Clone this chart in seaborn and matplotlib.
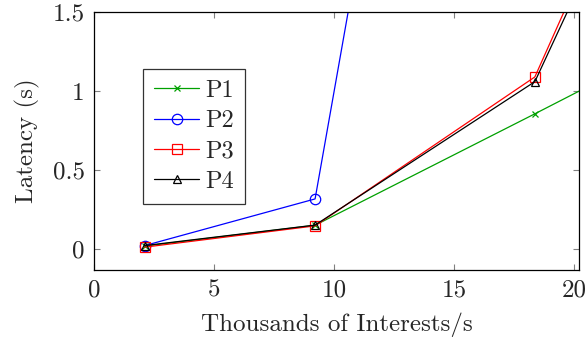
import numpy as np
import pandas as pd
import seaborn as sns
import matplotlib.pyplot as plt
from matplotlib.ticker import FuncFormatter

# interests per second (thousands) vs latency (s); last point of each series is off-chart
x_p1 = [2.1, 9.2, 18.36, 27.5]
y_p1 = [0.017, 0.149, 0.856, 1.57]

x_p2 = [2.1, 9.2, 18.36]
y_p2 = [0.02, 0.316, 8.2]

x_p3 = [2.1, 9.2, 18.36, 27.5]
y_p3 = [0.01, 0.145, 1.09, 4.2]

x_p4 = [2.1, 9.2, 18.36, 27.5]
y_p4 = [0.02, 0.15, 1.06, 4.05]

labels = ["P1", "P2", "P3", "P4"]

sns.set_style("ticks")
plt.rcParams["font.family"] = ["cmr10", "DejaVu Serif"]
plt.rcParams["axes.unicode_minus"] = False
plt.rcParams["mathtext.fontset"] = "cm"

fig = plt.figure(figsize=(5.87, 3.39), dpi=100)
ax = fig.add_axes([0.1607, 0.2035, 0.8257, 0.7602])

series = [
    (x_p1, y_p1, "#00a000", "x", 5, "none"),
    (x_p2, y_p2, "#0000ff", "o", 7.5, "none"),
    (x_p3, y_p3, "#ff0000", "s", 7.5, "none"),
    (x_p4, y_p4, "#000000", "^", 5.5, "none"),
]
for (xs, ys, col, mk, ms, fc), lab in zip(series, labels):
    sns.lineplot(x=xs, y=ys, ax=ax, color=col, marker=mk, markersize=ms,
                 markerfacecolor=fc, markeredgecolor=col, markeredgewidth=0.9,
                 linewidth=0.9, label=lab)

ax.set_xlim(0, 20.2)
ax.set_ylim(-0.135, 1.5)
ax.set_xticks([0, 5, 10, 15, 20])
ax.set_yticks([0, 0.5, 1, 1.5])
fmt = FuncFormatter(lambda v, p: "%g" % v)
ax.xaxis.set_major_formatter(fmt)
ax.yaxis.set_major_formatter(fmt)
ax.tick_params(direction="in", length=4, width=0.8, color="#808080",
               top=True, right=True, labelsize=18, pad=7)
for s in ax.spines.values():
    s.set_visible(True)
    s.set_linewidth(0.9)
    s.set_color("black")

ax.set_xlabel("Thousands of Interests/s", fontsize=18, labelpad=8)
ax.set_ylabel("Latency (s)", fontsize=18, labelpad=9)

leg = ax.legend(loc="upper left", bbox_to_anchor=(0.101, 0.781), fontsize=17.5,
                frameon=True, fancybox=False, edgecolor="black",
                handlelength=1.85, handletextpad=0.25, borderpad=0.45,
                labelspacing=0.34, borderaxespad=0)
leg.get_frame().set_linewidth(0.9)

fig.savefig("out.png", dpi=100)
